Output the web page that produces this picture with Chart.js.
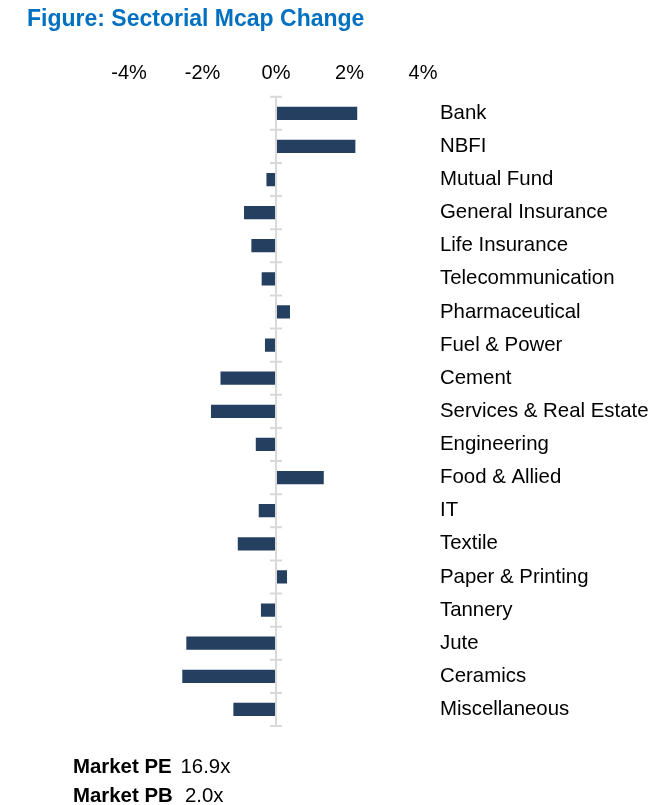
<!DOCTYPE html>
<html>
<head>
<meta charset="utf-8">
<script src="https://cdn.jsdelivr.net/npm/chart.js@4"></script>
<style>
  html, body { margin: 0; padding: 0; background: #fff; }
  body { width: 671px; height: 805px; position: relative; overflow: hidden; font-family: "Liberation Sans", Arial, sans-serif; }
  #wrap { position: absolute; left: 0; top: 0; width: 671px; height: 805px; }
  .txt { position: absolute; white-space: nowrap; z-index: 2; }
  #title { left: 27px; top: 7px; font-size: 23px; line-height: 23px; font-weight: bold; color: #0070C0; }
  .lbl { font-size: 20.4px; line-height: 20px; font-weight: bold; color: #000; left: 73px; }
  .val { font-size: 20.4px; line-height: 20px; color: #000; }
</style>
</head>
<body>
<div id="title" class="txt">Figure: Sectorial Mcap Change</div>
<div id="wrap"><canvas id="c" width="671" height="805"></canvas></div>
<div class="txt lbl" style="top:756.4px">Market PE</div>
<div class="txt val" style="top:756.4px; left:180.5px">16.9x</div>
<div class="txt lbl" style="top:784.8px">Market PB</div>
<div class="txt val" style="top:784.8px; left:185px">2.0x</div>
<script>
const categories = [
  'Bank', 'NBFI', 'Mutual Fund', 'General Insurance', 'Life Insurance',
  'Telecommunication', 'Pharmaceutical', 'Fuel & Power', 'Cement',
  'Services & Real Estate', 'Engineering', 'Food & Allied', 'IT', 'Textile',
  'Paper & Printing', 'Tannery', 'Jute', 'Ceramics', 'Miscellaneous'
];
const mcapChange = [
  2.21, 2.16, -0.26, -0.87, -0.67,
  -0.39, 0.38, -0.30, -1.51,
  -1.77, -0.55, 1.30, -0.47, -1.04,
  0.30, -0.41, -2.44, -2.55, -1.16
];
const xTickValues = [-4, -2, 0, 2, 4];
const xTickLabels = ['-4%', '-2%', '0%', '2%', '4%'];

const FONT = '"Liberation Sans", Arial, sans-serif';

const zeroAxisPlugin = {
  id: 'zeroAxis',
  afterDatasetsDraw(chart) {
    const x = chart.scales.x, y = chart.scales.y;
    const ctx = chart.ctx;
    const x0 = x.getPixelForValue(0);
    const n = categories.length;
    const yTop = y.getPixelForValue(-0.5);
    const yBot = y.getPixelForValue(n - 0.5);
    ctx.save();
    ctx.strokeStyle = '#d9d9d9';
    ctx.lineWidth = 2;
    ctx.beginPath();
    ctx.moveTo(x0, yTop);
    ctx.lineTo(x0, yBot);
    for (let i = 0; i <= n; i++) {
      const yy = y.getPixelForValue(i - 0.5);
      ctx.moveTo(x0 - 6, yy);
      ctx.lineTo(x0 + 6, yy);
    }
    ctx.stroke();
    ctx.restore();
  }
};

new Chart(document.getElementById('c'), {
  type: 'bar',
  data: {
    labels: categories,
    datasets: [{
      data: mcapChange,
      backgroundColor: '#243F60',
      borderWidth: 0,
      categoryPercentage: 1.0,
      barPercentage: 0.4
    }]
  },
  options: {
    indexAxis: 'y',
    responsive: false,
    animation: false,
    devicePixelRatio: 1,
    layout: { padding: { left: 129, right: 17, top: 61.7, bottom: 79 } },
    plugins: { legend: { display: false }, tooltip: { enabled: false }, title: { display: false } },
    scales: {
      x: {
        position: 'top',
        min: -4, max: 4,
        afterBuildTicks: (s) => { s.ticks = xTickValues.map(v => ({ value: v })); },
        afterFit: (s) => { s.height = 35; },
        ticks: {
          padding: 11,
          color: '#000',
          font: { family: FONT, size: 20 },
          callback: (v) => xTickLabels[xTickValues.indexOf(v)],
          maxRotation: 0
        },
        grid: { display: false, drawTicks: false },
        border: { display: false }
      },
      y: {
        position: 'right',
        ticks: {
          padding: 17,
          color: '#000',
          crossAlign: 'near',
          font: { family: FONT, size: 20.4 }
        },
        grid: { display: false, drawTicks: false },
        border: { display: false },
        afterFit: (s) => { s.width = 231; }
      }
    }
  },
  plugins: [zeroAxisPlugin]
});
</script>
</body>
</html>
